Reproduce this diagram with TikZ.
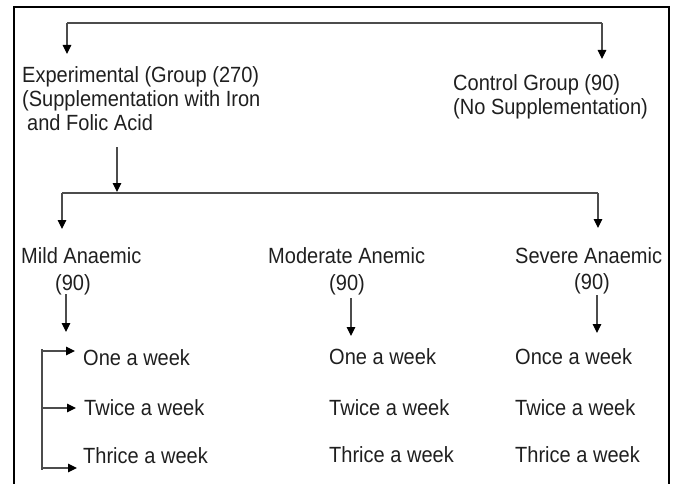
\documentclass[tikz,border=0pt]{standalone}
\usepackage{fontspec}
\setmainfont{Liberation Sans}[FakeStretch=0.91]
\usetikzlibrary{arrows.meta}
\begin{document}
\begin{tikzpicture}[x=1pt,y=-1pt,
  lbl/.style={anchor=base west,inner sep=0pt,text=black!88,font=\fontsize{22}{26}\selectfont},
  clbl/.style={anchor=base,inner sep=0pt,text=black!88,font=\fontsize{22}{26}\selectfont},
  conn/.style={draw=black!70,line width=1.1pt},
  arr/.style={conn,-{Triangle[length=9pt,width=8.5pt,color=black]}},
  frame/.style={draw=black,line width=2pt}]
\useasboundingbox (0,0) rectangle (677,484);
% frame
\draw[frame] (14,490) -- (14,7) -- (669,7) -- (669,490);
% top level texts
\node[lbl] (exp1) at (22,83) {Experimental (Group (270)};
\node[lbl] (exp2) at (22,107) {(Supplementation with Iron};
\node[lbl] (exp3) at (27,131) {and Folic Acid};
\node[lbl] (ctl1) at (453,91) {Control Group (90)};
\node[lbl] (ctl2) at (453,115) {(No Supplementation)};
% groups
\node[lbl] (mild) at (21,263) {Mild Anaemic};
\node[clbl] (mildn) at (73,290) {(90)};
\node[lbl] (mod) at (268,263) {Moderate Anemic};
\node[clbl] (modn) at (347,290) {(90)};
\node[lbl] (sev) at (515,263) {Severe Anaemic};
\node[clbl] (sevn) at (592,289) {(90)};
% frequencies
\node[lbl] (m1) at (83,365) {One a week};
\node[lbl] (m2) at (84,415) {Twice a week};
\node[lbl] (m3) at (83,463) {Thrice a week};
\node[lbl] (d1) at (329,364) {One a week};
\node[lbl] (d2) at (329,415) {Twice a week};
\node[lbl] (d3) at (329,462) {Thrice a week};
\node[lbl] (s1) at (515,364) {Once a week};
\node[lbl] (s2) at (515,415) {Twice a week};
\node[lbl] (s3) at (515,462) {Thrice a week};
% coordinates
\coordinate (tl) at (67,23);
\coordinate (tr) at (602,23);
\coordinate (tlEnd) at (67,54);
\coordinate (trEnd) at (602,59);
\coordinate (eStart) at (117,147);
\coordinate (eEnd) at (117,192);
\coordinate (ml) at (62,193);
\coordinate (mr) at (598,193);
\coordinate (mlEnd) at (62,229);
\coordinate (mrEnd) at (598,228);
\coordinate (c1s) at (66,294);
\coordinate (c1e) at (66,332);
\coordinate (c2s) at (351,298);
\coordinate (c2e) at (351,336);
\coordinate (c3s) at (597,295);
\coordinate (c3e) at (597,333);
\coordinate (b1) at (42,351);
\coordinate (b2) at (42,408);
\coordinate (b3) at (42,468);
\coordinate (b1e) at (75,351);
\coordinate (b2e) at (76,408);
\coordinate (b3e) at (77,468);
% connectors
\draw[conn] (tl) -- (tr);
\draw[arr] (tl) -- (tlEnd);
\draw[arr] (tr) -- (trEnd);
\draw[arr] (eStart) -- (eEnd);
\draw[conn] (ml) -- (mr);
\draw[arr] (ml) -- (mlEnd);
\draw[arr] (mr) -- (mrEnd);
\draw[arr] (c1s) -- (c1e);
\draw[arr] (c2s) -- (c2e);
\draw[arr] (c3s) -- (c3e);
\draw[conn] (42,349) -- (42,470);
\draw[arr] (b1) -- (b1e);
\draw[arr] (b2) -- (b2e);
\draw[arr] (b3) -- (b3e);
\end{tikzpicture}
\end{document}
